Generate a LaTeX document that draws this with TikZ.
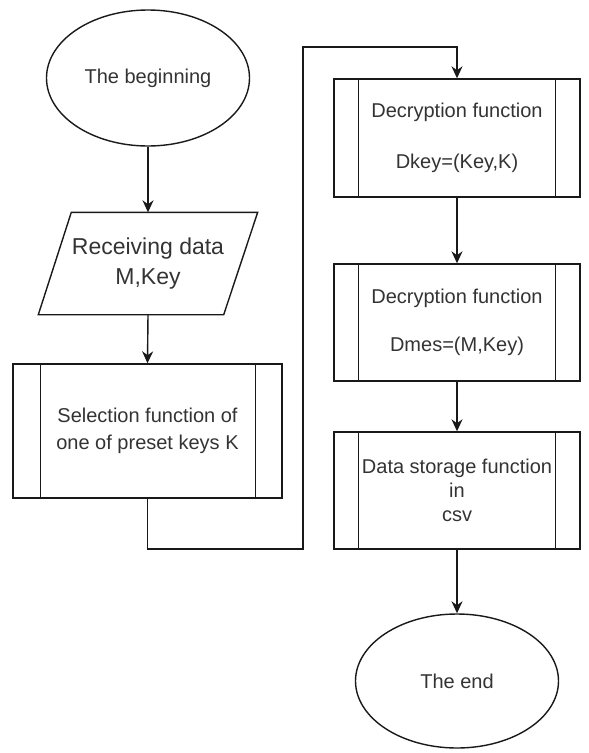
\documentclass[tikz,border=0pt]{standalone}
\usepackage{fontspec}
\setmainfont{Liberation Sans}
\usetikzlibrary{shapes.geometric,arrows.meta}

\begin{document}
\begin{tikzpicture}[x=1pt,y=-1pt,
  line width=1.4pt,
  every node/.style={text=black!80, inner sep=0pt, align=center},
  txt/.style={font=\fontsize{20}{24}\selectfont},
  terminal/.style={txt, draw=black!90, ellipse, minimum width=203pt, minimum height=136pt},
  procbox/.style={txt, draw=black!90, rectangle},
  flow/.style={draw=black!90, -{Stealth[length=12pt,width=11pt]}}
]
\useasboundingbox (0,0) rectangle (589,753);

% start terminal
\node[terminal] (begin) at (148,78) {The beginning};

% input / output parallelogram
\node[font=\fontsize{23}{30}\selectfont, minimum width=218pt, minimum height=101pt] (recv) at (148,263.5) {Receiving data\\M,Key};
\draw[black!90] ([xshift=33pt]recv.north west) -- (recv.north east)
  -- ([xshift=-34pt]recv.south east) -- (recv.south west) -- cycle;

% key selection subprocess
\node[procbox, font=\fontsize{20}{27}\selectfont, minimum width=269pt, minimum height=134pt] (sel) at (147.5,431)
  {Selection function of\\one of preset keys K};
\draw[black!90] ([xshift=28pt]sel.north west) -- ([xshift=28pt]sel.south west)
  ([xshift=-27pt]sel.north east) -- ([xshift=-27pt]sel.south east);

% right column subprocesses
\node[procbox, minimum width=246pt, minimum height=118pt] (dk) at (457,138)
  {Decryption function\\[27pt]Dkey=(Key,K)};
\node[procbox, minimum width=246pt, minimum height=117pt] (dm) at (457,322.5)
  {Decryption function\\[24pt]Dmes=(M,Key)};
\node[procbox, minimum width=246pt, minimum height=117pt] (ds) at (457,490.5)
  {Data storage function\\in\\csv};
\foreach \n in {dk,dm,ds}{
  \draw[black!90] ([xshift=25pt]\n.north west) -- ([xshift=25pt]\n.south west)
    ([xshift=-25pt]\n.north east) -- ([xshift=-25pt]\n.south east);
}

% end terminal
\node[terminal, minimum height=134pt] (end) at (457,681) {The end};

% connectors
\coordinate (t1) at (303,549);
\coordinate (t2) at (303,47);
\draw[flow] (begin.south) -- (recv.north);
\draw[flow] (recv.south) -- (sel.north);
\draw[flow] (sel.south) |- (t1) -- (t2) -| (dk.north);
\draw[flow] (dk.south) -- (dm.north);
\draw[flow] (dm.south) -- (ds.north);
\draw[flow] (ds.south) -- (end.north);
\end{tikzpicture}
\end{document}
